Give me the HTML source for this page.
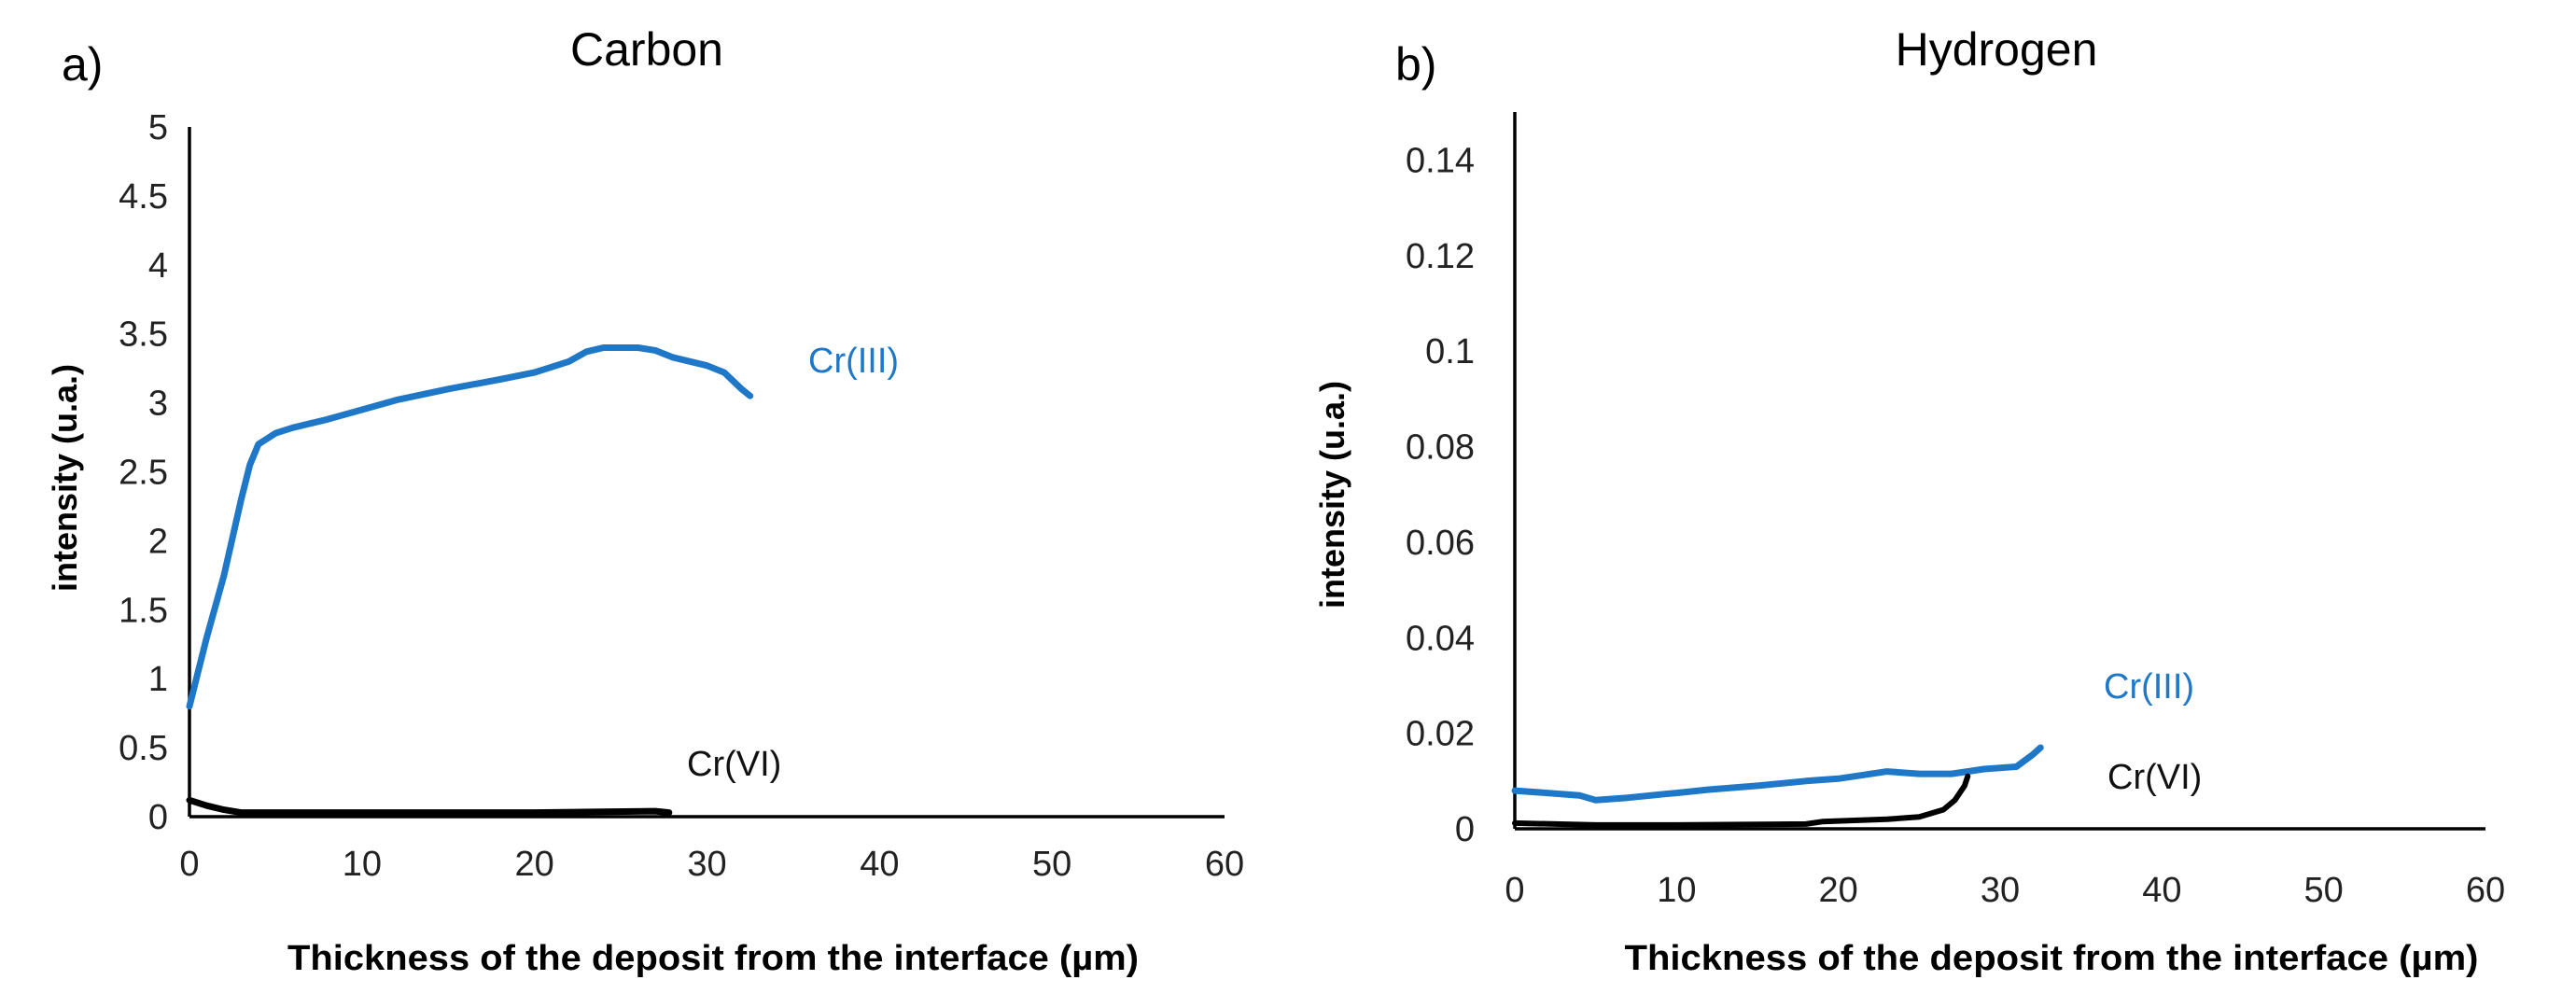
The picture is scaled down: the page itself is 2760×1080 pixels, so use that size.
<!DOCTYPE html>
<html><head><meta charset="utf-8"><style>
html,body{margin:0;padding:0;background:#fff;}
svg{display:block;font-family:"Liberation Sans",sans-serif;}
</style></head><body>
<svg id="chart" width="2760" height="1080" viewBox="0 0 2760 1080">
<text x="66" y="86" font-size="50">a)</text>
<text x="693" y="70" font-size="50" text-anchor="middle">Carbon</text>
<text x="1495" y="86" font-size="50">b)</text>
<text x="2139" y="70" font-size="50" text-anchor="middle">Hydrogen</text>
<text x="764" y="1039" font-size="38" font-weight="bold" text-anchor="middle" textLength="912" lengthAdjust="spacingAndGlyphs">Thickness of the deposit from the interface (µm)</text>
<text x="2198" y="1039" font-size="38" font-weight="bold" text-anchor="middle" textLength="915" lengthAdjust="spacingAndGlyphs">Thickness of the deposit from the interface (µm)</text>
<text transform="translate(82,512) rotate(-90)" font-size="36" font-weight="bold" text-anchor="middle">intensity (u.a.)</text>
<text transform="translate(1440,530) rotate(-90)" font-size="36" font-weight="bold" text-anchor="middle">intensity (u.a.)</text>
<text x="866" y="399" font-size="38" fill="#1f77c8">Cr(III)</text>
<text x="736" y="831" font-size="38" fill="#111">Cr(VI)</text>
<text x="2254" y="748" font-size="38" fill="#1f77c8">Cr(III)</text>
<text x="2258" y="845" font-size="38" fill="#111">Cr(VI)</text>
</svg>
<script>
const xTicks = [0,10,20,30,40,50,60];
const carbonYTicks = [0,0.5,1,1.5,2,2.5,3,3.5,4,4.5,5];
const hydroYTicks = [0,0.02,0.04,0.06,0.08,0.1,0.12,0.14];
const carbonCr3X = [0,0.5,1,2,3,3.5,4,5,6,8,10,12,15,18,20,22,23,24,26,27,28,30,31,32,32.5];
const carbonCr3Y = [0.8,1.05,1.3,1.75,2.3,2.55,2.7,2.78,2.82,2.88,2.95,3.02,3.1,3.17,3.22,3.3,3.37,3.4,3.4,3.38,3.33,3.27,3.22,3.1,3.05];
const carbonCr6X = [0,1,2,3,5,10,20,27,27.8];
const carbonCr6Y = [0.12,0.08,0.05,0.03,0.03,0.03,0.03,0.04,0.03];
const hydroCr3X = [0,2,4,5,7,9,10,12,15,18,20,23,25,27,29,31,32,32.5];
const hydroCr3Y = [0.008,0.0075,0.007,0.006,0.0065,0.0072,0.0075,0.0082,0.009,0.01,0.0105,0.012,0.0115,0.0115,0.0125,0.013,0.0155,0.017];
const hydroCr6X = [0,5,10,18,19,23,25,26.5,27.2,27.8,28];
const hydroCr6Y = [0.0012,0.0008,0.0008,0.001,0.0015,0.002,0.0025,0.004,0.006,0.009,0.011];

const NS='http://www.w3.org/2000/svg';
const svg=document.getElementById('chart');
function mk(tag,attrs){const e=document.createElementNS(NS,tag);for(const k in attrs)e.setAttribute(k,attrs[k]);svg.appendChild(e);return e;}

function panel(p,yTicks,yMax,yTop,fmt,series){
  const sx=v=>p.x0+(v/60)*(p.x1-p.x0);
  const sy=v=>p.y0-(v/yMax)*(p.y0-p.yMaxPx);
  const ax=mk('line',{x1:p.x0,y1:yTop,x2:p.x0,y2:p.y0,stroke:'#000','stroke-width':3.5});
  
  
  const bx=mk('line',{x1:p.x0,y1:p.y0,x2:p.x1,y2:p.y0,stroke:'#000','stroke-width':3.5});
  
  
  yTicks.forEach(t=>{
    const e=mk('text',{x:p.ylx,y:sy(t)+13,'font-size':38,'text-anchor':'end',fill:'#222'});
    e.textContent=fmt(t);
    
    
  });
  xTicks.forEach(t=>{
    const e=mk('text',{x:sx(t),y:p.xly,'font-size':38,'text-anchor':'middle',fill:'#222'});
    e.textContent=t;
    
    
  });
  series.forEach(s=>{
    const pts=s.x.map((v,i)=>sx(v).toFixed(1)+','+sy(s.y[i]).toFixed(1)).join(' ');
    const l=mk('polyline',{points:pts,fill:'none',stroke:s.c,'stroke-width':s.w,'stroke-linejoin':'round','stroke-linecap':'round'});
    
    
  });
}
panel({name:'carbon',x0:203,x1:1312,y0:875,yMaxPx:136,ylx:180,xly:938},carbonYTicks,5,136,t=>String(t),
  [{x:carbonCr3X,y:carbonCr3Y,c:'#1f77c8',w:7,n:'carbon-cr3-line'},{x:carbonCr6X,y:carbonCr6Y,c:'#000',w:7,n:'carbon-cr6-line'}]);
panel({name:'hydrogen',x0:1623,x1:2663,y0:888,yMaxPx:171.5,ylx:1580,xly:966},hydroYTicks,0.14,120,t=>t===0?'0':String(+t.toFixed(2)),
  [{x:hydroCr3X,y:hydroCr3Y,c:'#1f77c8',w:7,n:'hydrogen-cr3-line'},{x:hydroCr6X,y:hydroCr6Y,c:'#000',w:6,n:'hydrogen-cr6-line'}]);
</script>
</body></html>
